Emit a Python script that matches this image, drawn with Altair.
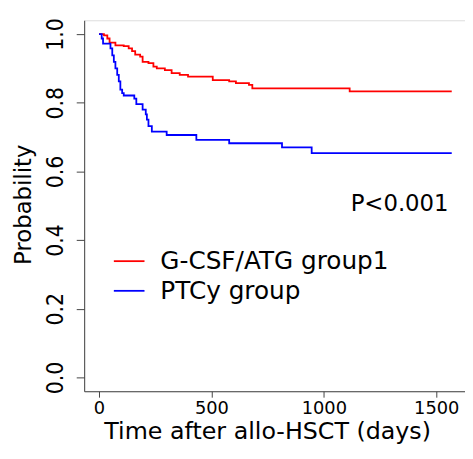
import altair as alt
import pandas as pd

red_label = "G-CSF/ATG group1"
blue_label = "PTCy group"

red_days = [0, 22, 37, 47, 73, 110, 132, 147, 161, 183, 194, 220, 242, 257, 293, 323, 359, 396, 506, 579, 609, 667, 682, 1115, 1569]
red_surv = [1.0, 0.996, 0.987, 0.975, 0.967, 0.965, 0.958, 0.950, 0.940, 0.934, 0.919, 0.915, 0.905, 0.900, 0.895, 0.886, 0.881, 0.876, 0.866, 0.862, 0.857, 0.852, 0.842, 0.833, 0.833]

blue_days = [0, 12, 18, 51, 59, 66, 73, 81, 88, 95, 103, 110, 157, 166, 194, 208, 213, 220, 235, 301, 433, 579, 814, 946, 1569]
blue_surv = [1.0, 0.987, 0.972, 0.958, 0.938, 0.919, 0.900, 0.881, 0.862, 0.838, 0.828, 0.821, 0.812, 0.796, 0.780, 0.766, 0.751, 0.732, 0.716, 0.706, 0.692, 0.682, 0.670, 0.653, 0.653]

x_ticks = [0, 500, 1000, 1500]
y_ticks = [0.0, 0.2, 0.4, 0.6, 0.8, 1.0]

p_text = ["P<0.001"]
p_x = [1337]
p_y = [0.504]

FONT = "DejaVu Sans"
YLAB_FONT = "Liberation Sans Narrow, DejaVu Sans Condensed, DejaVu Sans"

df = pd.concat([
    pd.DataFrame({"day": red_days, "surv": red_surv, "group": red_label, "ord": range(len(red_days))}),
    pd.DataFrame({"day": blue_days, "surv": blue_surv, "group": blue_label, "ord": range(len(blue_days))}),
])

xscale = alt.Scale(domain=[-66, 1628], nice=False, zero=False)
yscale = alt.Scale(domain=[-0.04, 1.04], nice=False, zero=False)

lines = alt.Chart(df).mark_line(interpolate="step-after", strokeWidth=1.8).encode(
    x=alt.X("day:Q", scale=xscale, title="Time after allo-HSCT (days)",
            axis=alt.Axis(values=x_ticks, format="d", tickSize=6, labelPadding=3, grid=False,
                          domainColor="#444444", tickColor="#444444",
                          labelFontSize=18, titleFontSize=24, labelFont=FONT, titleFont=FONT,
                          labelColor="black", titleColor="black", titleFontWeight="normal",
                          titleX=185, titleY=41, titleBaseline="middle", titleAlign="center",
                          labelFlush=False)),
    y=alt.Y("surv:Q", scale=yscale, title="Probability",
            axis=alt.Axis(values=y_ticks, format=".1f", tickSize=8, labelPadding=21, grid=False,
                          domainColor="#444444", tickColor="#444444",
                          labelAngle=270, labelAlign="center", labelBaseline="middle",
                          labelFontSize=23, titleFontSize=23, labelFont=YLAB_FONT, titleFont=FONT,
                          labelColor="black", titleColor="black", titleFontWeight="normal",
                          titleX=-61, titleY=186, titleAngle=270, titleAlign="center",
                          titleBaseline="middle", labelFlush=False)),
    color=alt.Color("group:N",
                    scale=alt.Scale(domain=[red_label, blue_label], range=["#FF0000", "#0000FF"]),
                    legend=alt.Legend(title=None, orient="none", legendX=29, legendY=227,
                                      symbolType="stroke", symbolSize=961, symbolStrokeWidth=1.8,
                                      labelFontSize=25, labelFont=FONT, labelColor="black",
                                      labelOffset=15, rowPadding=0, padding=0, labelLimit=400)),
    order="ord:Q",
)

ptext = alt.Chart(pd.DataFrame({"t": p_text, "x": p_x, "y": p_y})).mark_text(
    fontSize=23, font=FONT, color="black", align="center", baseline="middle"
).encode(x=alt.X("x:Q", scale=xscale), y=alt.Y("y:Q", scale=yscale), text="t:N")

chart = alt.layer(lines, ptext).properties(
    width=385, height=375,
    padding={"left": 77, "top": 10, "right": 0, "bottom": 58},
    autosize=alt.AutoSizeParams(type="none"),
).configure_view(stroke=None).configure(background="white")

chart.save("out.html", embed_options={"renderer": "svg", "actions": False})
